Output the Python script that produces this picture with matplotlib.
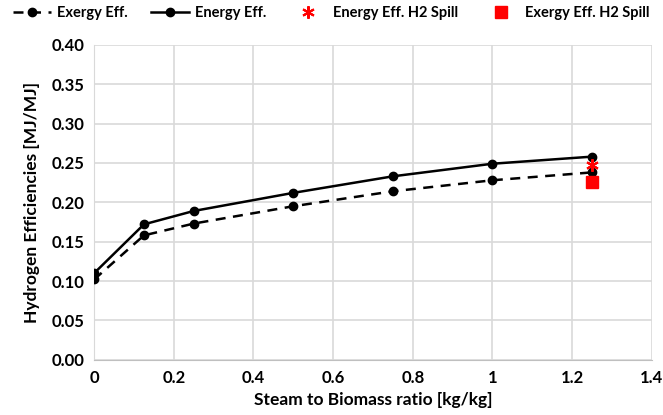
import matplotlib
matplotlib.use("Agg")
import matplotlib.pyplot as plt

plt.rcParams['font.family'] = ['Lato', 'DejaVu Sans']
plt.rcParams['font.weight'] = 'bold'

sb_ratio = [0, 0.125, 0.25, 0.5, 0.75, 1.0, 1.25]
energy_eff = [0.110, 0.172, 0.189, 0.212, 0.233, 0.249, 0.258]
exergy_eff = [0.102, 0.158, 0.173, 0.195, 0.214, 0.228, 0.238]
spill_x = [1.25]
energy_spill = [0.247]
exergy_spill = [0.226]

xticks = [0, 0.2, 0.4, 0.6, 0.8, 1, 1.2, 1.4]
xticklabels = ['0', '0.2', '0.4', '0.6', '0.8', '1', '1.2', '1.4']
yticks = [0.00, 0.05, 0.10, 0.15, 0.20, 0.25, 0.30, 0.35, 0.40]

fig = plt.figure(figsize=(6.63, 4.15), dpi=100)
ax = fig.add_axes([0.142, 0.133, 0.841, 0.759])

ax.plot(sb_ratio, exergy_eff, color='black', ls=(0, (4, 3)), lw=1.8, marker='o', ms=6, label='Exergy Eff.', zorder=3)
ax.plot(sb_ratio, energy_eff, color='black', ls='-', lw=1.8, marker='o', ms=6, label='Energy Eff.', zorder=3)
ax.plot(spill_x, energy_spill, ls='none', marker=(6, 2, 0), color='red', mec='red', ms=9, mew=1.5, label='Energy Eff. H2 Spill', zorder=4)
ax.plot(spill_x, exergy_spill, ls='none', marker='s', color='red', ms=8, label='Exergy Eff. H2 Spill', zorder=4)

ax.set_xlim(0, 1.4)
ax.set_ylim(0, 0.40)
ax.set_xticks(xticks)
ax.set_xticklabels(xticklabels)
ax.set_yticks(yticks)
ax.set_yticklabels([f'{v:.2f}' for v in yticks])
ax.grid(True, color='#d9d9d9', lw=1.2)
ax.set_axisbelow(True)
for s in ['top', 'right']:
    ax.spines[s].set_visible(False)
ax.spines['left'].set_color('#d9d9d9')
ax.spines['bottom'].set_color('#bfbfbf')
ax.tick_params(length=0, labelsize=12, pad=7)
for lab in ax.get_xticklabels() + ax.get_yticklabels():
    lab.set_fontweight('bold')

ax.set_xlabel('Steam to Biomass ratio [kg/kg]', fontsize=12.5, fontweight='bold', labelpad=5)
ax.set_ylabel('Hydrogen Efficiencies [MJ/MJ]', fontsize=12.5, fontweight='bold', labelpad=8)

leg = fig.legend(loc='upper center', bbox_to_anchor=(0.5, 1.0), ncol=4, frameon=False,
                 fontsize=10.5, handlelength=2.6, columnspacing=1.6, handletextpad=0.4,
                 borderaxespad=0.2, borderpad=0.2)
for t in leg.get_texts():
    t.set_fontweight('bold')

fig.savefig('out.png', dpi=100)
